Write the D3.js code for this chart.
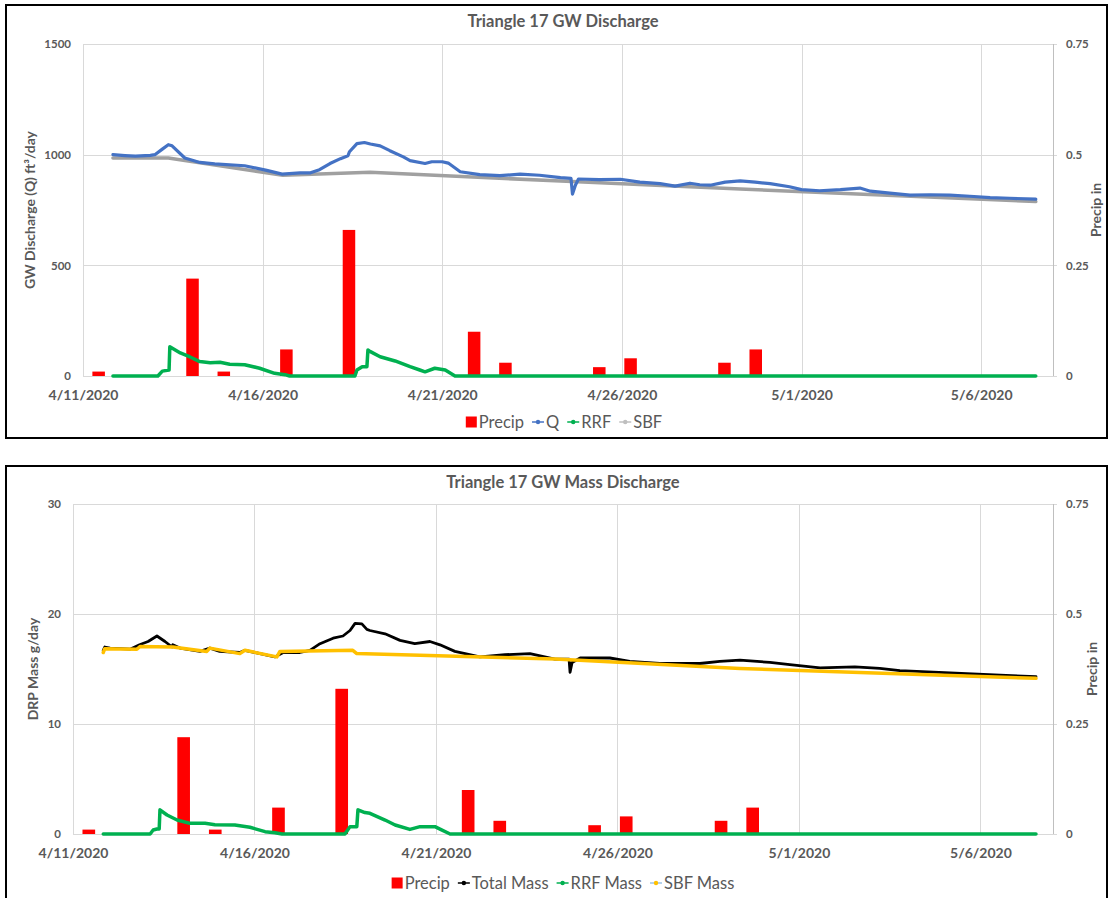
<!DOCTYPE html>
<html><head><meta charset="utf-8">
<script src="https://cdn.jsdelivr.net/npm/d3@7"></script>
<style>
body{margin:0;background:#fff}
svg{display:block}
text{font-family:Lato,"Open Sans",sans-serif;fill:#595959}
</style>
</head><body>
<svg id="c" width="1110" height="898"></svg>
<script>
// Daily precipitation (in), one value per day 4/11/2020 .. 5/11/2020
const precipDays = d3.range(31).map(i => d3.timeFormat("%-m/%-d/%Y")(d3.timeDay.offset(new Date(2020,3,11), i)));
const precipIn = [0.01,0,0,0.22,0.01,0,0.06,0,0.33,0,0,0,0.10,0.03,0,0,0.02,0.04,0,0,0.03,0.06,0,0,0,0,0,0,0,0,0];

// Groundwater discharge (ft3/day)
const qFlow = [["4/11 20:00",1000],["4/12 04:00",996],["4/12 11:00",993],["4/12 21:00",997],["4/13 00:00",1000],["4/13 05:00",1025],["4/13 09:00",1045],["4/13 11:30",1040],["4/13 20:00",985],["4/14 06:00",965],["4/14 16:00",958],["4/15 12:00",950],["4/16 02:00",930],["4/16 13:00",912],["4/17 01:00",918],["4/17 08:00",918],["4/17 14:00",932],["4/17 21:00",960],["4/18 04:00",982],["4/18 09:00",995],["4/18 10:00",1013],["4/18 15:00",1050],["4/18 20:00",1055],["4/19 00:00",1048],["4/19 06:30",1040],["4/19 13:00",1018],["4/19 22:00",990],["4/20 02:30",973],["4/20 12:30",960],["4/20 17:00",968],["4/21 00:00",968],["4/21 04:00",962],["4/21 12:00",923],["4/22 01:00",910],["4/22 14:30",905],["4/23 04:00",912],["4/23 17:00",907],["4/24 07:00",896],["4/24 14:00",893],["4/24 15:00",822],["4/24 17:00",863],["4/24 19:00",890],["4/25 09:00",887],["4/25 23:00",889],["4/26 12:00",876],["4/27 01:30",869],["4/27 11:30",858],["4/27 21:30",871],["4/28 04:00",864],["4/28 11:00",862],["4/28 21:00",876],["4/29 07:00",882],["4/29 17:00",876],["4/30 03:00",869],["4/30 16:00",855],["5/01 00:00",842],["5/01 12:00",837],["5/02 02:00",842],["5/02 15:00",849],["5/02 22:00",835],["5/03 11:00",826],["5/04 00:30",817],["5/04 14:00",819],["5/05 03:00",817],["5/05 16:30",812],["5/06 06:00",806],["5/06 19:00",803],["5/07 12:30",799]];
const rrfFlow = [["4/11 20:00",0],["4/13 02:00",0],["4/13 05:00",22],["4/13 09:30",27],["4/13 10:00",132],["4/13 17:00",104],["4/13 23:30",86],["4/14 06:00",65],["4/14 13:00",60],["4/14 19:30",62],["4/15 02:00",53],["4/15 12:00",51],["4/15 22:00",35],["4/16 08:00",12],["4/16 15:00",6],["4/16 18:00",0],["4/18 13:40",0],["4/18 15:00",27],["4/18 18:30",42],["4/18 21:40",42],["4/18 22:20",117],["4/19 00:00",110],["4/19 06:30",87],["4/19 16:30",68],["4/20 02:30",42],["4/20 09:00",27],["4/20 12:30",19],["4/20 19:00",35],["4/21 02:00",27],["4/21 08:30",0],["5/07 12:30",0]];
const sbfFlow = [["4/11 20:00",985],["4/13 09:00",985],["4/16 13:30",907],["4/18 23:50",920],["4/24 07:00",881],["4/29 07:00",845],["5/07 12:30",788]];

// DRP mass discharge (g/day)
const totalMass = [["4/11 20:00",16.7],["4/11 21:00",17.0],["4/12 00:30",16.9],["4/12 13:40",16.8],["4/12 20:00",17.2],["4/13 01:40",17.5],["4/13 07:30",18.0],["4/13 12:50",17.5],["4/13 17:30",17.0],["4/13 18:00",17.2],["4/13 22:45",16.9],["4/14 12:00",16.6],["4/14 18:30",16.9],["4/15 01:00",16.6],["4/15 14:20",16.5],["4/15 17:40",16.7],["4/16 03:40",16.4],["4/16 13:30",16.1],["4/16 19:00",16.5],["4/17 06:00",16.5],["4/17 12:40",16.7],["4/17 19:20",17.3],["4/18 04:00",17.8],["4/18 10:30",18.0],["4/18 15:10",18.5],["4/18 18:30",19.15],["4/18 23:00",19.1],["4/19 02:20",18.6],["4/19 04:20",18.5],["4/19 14:20",18.2],["4/20 00:15",17.6],["4/20 10:00",17.3],["4/20 20:00",17.5],["4/21 02:40",17.2],["4/21 12:30",16.6],["4/22 05:00",16.1],["4/22 21:40",16.3],["4/23 14:10",16.4],["4/24 06:40",15.9],["4/24 16:00",15.9],["4/24 16:40",14.7],["4/24 18:00",15.6],["4/24 23:20",16.0],["4/25 19:00",16.0],["4/26 08:10",15.7],["4/27 04:00",15.5],["4/27 17:20",15.5],["4/28 06:30",15.5],["4/28 19:40",15.7],["4/29 09:00",15.8],["4/30 04:50",15.6],["4/30 18:00",15.4],["5/01 14:00",15.1],["5/02 13:00",15.2],["5/03 05:30",15.05],["5/03 18:45",14.85],["5/05 04:00",14.65],["5/06 13:00",14.45],["5/07 12:45",14.3]];
const rrfMass = [["4/11 20:00",0],["4/13 03:00",0],["4/13 05:00",0.36],["4/13 07:30",0.45],["4/13 09:00",0.45],["4/13 09:30",2.2],["4/13 14:10",1.73],["4/13 20:50",1.27],["4/14 05:20",0.97],["4/14 15:20",0.97],["4/14 21:50",0.85],["4/15 11:00",0.82],["4/15 21:00",0.61],["4/16 07:00",0.21],["4/16 13:30",0.12],["4/16 18:15",0],["4/18 11:50",0],["4/18 15:10",0.67],["4/18 19:40",0.67],["4/18 20:25",2.2],["4/19 01:00",1.95],["4/19 04:20",1.88],["4/19 14:20",1.27],["4/19 21:00",0.82],["4/20 06:45",0.42],["4/20 13:30",0.67],["4/20 23:20",0.67],["4/21 02:40",0.45],["4/21 09:20",0],["5/07 12:45",0]];
const sbfMass = [["4/11 20:00",16.5],["4/11 21:00",16.85],["4/12 18:15",16.8],["4/12 20:20",17.05],["4/13 18:00",17.0],["4/14 16:30",16.6],["4/14 18:30",16.9],["4/15 14:20",16.4],["4/15 17:40",16.7],["4/16 14:50",16.1],["4/16 16:50",16.6],["4/18 17:00",16.7],["4/18 19:40",16.4],["4/24 06:40",15.9],["4/29 09:00",15.05],["5/07 12:45",14.15]];

// Axis ticks
const dateTicks = ["4/11 00:00","4/16 00:00","4/21 00:00","4/26 00:00","5/01 00:00","5/06 00:00"];
const precipTicks = [0,0.25,0.5,0.75];
const flowTicks = [0,500,1000,1500];
const massTicks = [0,10,20,30];

const parseT = d3.timeParse("%m/%d/%Y %H:%M");
const toDate = s => parseT(s.replace(" ", "/2020 "));
const asPoints = arr => arr.map(([t, v]) => ({t: toDate(t), v}));

const svg = d3.select("#c");
const GRID = "#d9d9d9";

function drawPanel(o) {
  const g = svg.append("g");
  g.append("rect").attr("x", o.frame[0]).attr("y", o.frame[1])
    .attr("width", o.frame[2]).attr("height", o.frame[3])
    .attr("fill", "#fff").attr("stroke", "#000").attr("stroke-width", 2);

  const x = d3.scaleTime().domain([new Date(2020,3,11), new Date(2020,4,8)]).range([o.left, o.right]);
  const xb = d3.scaleBand().domain(precipDays).range([o.left, o.right]).paddingInner(0.6).paddingOuter(0.3);
  const y = d3.scaleLinear().domain([0, o.yTicks[o.yTicks.length-1]]).range([o.bottom, o.top]);
  const yp = d3.scaleLinear().domain([0, 0.75]).range([o.bottom, o.top]);

  // gridlines
  g.append("g").selectAll("line").data(o.yTicks).join("line")
    .attr("x1", o.left).attr("x2", o.right + 4)
    .attr("y1", d => Math.round(y(d)) + 0.5).attr("y2", d => Math.round(y(d)) + 0.5)
    .attr("stroke", GRID).attr("stroke-width", 1);
  g.append("g").selectAll("line").data(dateTicks.map(toDate)).join("line")
    .attr("x1", d => Math.round(x(d)) + 0.5).attr("x2", d => Math.round(x(d)) + 0.5)
    .attr("y1", o.top).attr("y2", o.bottom)
    .attr("stroke", GRID).attr("stroke-width", 1);
  g.append("line").attr("x1", o.right + 0.5).attr("x2", o.right + 0.5)
    .attr("y1", o.top).attr("y2", o.bottom).attr("stroke", "#bfbfbf");

  // left axis labels
  const yAxis = d3.axisLeft(y).tickValues(o.yTicks).tickSize(0).tickPadding(12).tickFormat(d3.format("d"));
  g.append("g").attr("transform", `translate(${o.left},0)`).call(yAxis)
    .call(s => s.select(".domain").remove())
    .selectAll("text").style("font-size", "11.5px").style("font-weight", 700).attr("fill", "#595959");

  // right axis labels
  const ypAxis = d3.axisRight(yp).tickValues(precipTicks).tickSize(0).tickPadding(13)
    .tickFormat(d => d === 0 ? "0" : String(d));
  g.append("g").attr("transform", `translate(${o.right},0)`).call(ypAxis)
    .call(s => s.select(".domain").remove())
    .selectAll("text").style("font-size", "11.5px").style("font-weight", 700).attr("fill", "#595959");

  // date labels
  const xAxis = d3.axisBottom(x).tickValues(dateTicks.map(toDate)).tickFormat(d3.timeFormat("%-m/%-d/%Y")).tickSize(0).tickPadding(14);
  g.append("g").attr("transform", `translate(0,${o.bottom})`).call(xAxis)
    .call(s => s.select(".domain").remove())
    .selectAll("text").style("font-size", "14px").style("font-weight", 700).attr("fill", "#595959");

  // precipitation columns
  g.append("g").selectAll("rect").data(precipDays.map((d, i) => ({d, v: precipIn[i]})).filter(d => d.v > 0)).join("rect")
    .attr("x", d => xb(d.d)).attr("width", xb.bandwidth())
    .attr("y", d => yp(d.v)).attr("height", d => yp(0) - yp(d.v))
    .attr("fill", "#ff0000");

  // series lines
  const line = d3.line().x(d => x(d.t)).y(d => y(d.v));
  o.series.forEach(s => {
    g.append("path").datum(asPoints(s.data)).attr("d", line)
      .attr("fill", "none").attr("stroke", s.color).attr("stroke-width", s.width)
      .attr("stroke-linejoin", "round").attr("stroke-linecap", "round");
  });

  // titles
  g.append("text").attr("x", o.titleX).attr("y", o.titleY).attr("text-anchor", "middle")
    .style("font-size", "16.5px").style("font-weight", 700).text(o.title);
  g.append("text").attr("transform", `translate(${o.yTitleX},${(o.top + o.bottom) / 2}) rotate(-90)`)
    .attr("text-anchor", "middle").attr("dy", "0.35em")
    .style("font-size", "14px").style("font-weight", 700).text(o.yTitle);
  g.append("text").attr("transform", `translate(${o.y2TitleX},${(o.top + o.bottom) / 2}) rotate(-90)`)
    .attr("text-anchor", "middle").attr("dy", "0.35em")
    .style("font-size", "14px").style("font-weight", 700).text("Precip in");

  // legend
  const lg = g.append("g");
  let cx = 0;
  const gap = 8;
  o.legend.forEach(it => {
    const item = lg.append("g").attr("transform", `translate(${cx},0)`);
    let w;
    if (it.kind === "bar") {
      item.append("rect").attr("x", 0).attr("y", -5.5).attr("width", 11).attr("height", 11).attr("fill", it.color);
      w = 13;
    } else {
      item.append("line").attr("x1", 0).attr("x2", 12).attr("y1", 0).attr("y2", 0)
        .attr("stroke", it.line || it.color).attr("stroke-width", 1.5);
      item.append("circle").attr("cx", 6).attr("cy", 0).attr("r", 2.2).attr("fill", it.color);
      w = 14;
    }
    const t = item.append("text").attr("x", w).attr("dy", "0.36em").style("font-size", "16.5px").text(it.label);
    cx += w + t.node().getComputedTextLength() + gap;
  });
  cx -= gap;
  lg.attr("transform", `translate(${o.legendCX - cx / 2},${o.legendY})`);
}

drawPanel({
  frame: [6, 5, 1101, 433],
  left: 83, right: 1053, top: 44, bottom: 376,
  yTicks: flowTicks,
  title: "Triangle 17 GW Discharge", titleX: 563, titleY: 27,
  yTitle: "GW Discharge (Q)  ft³/day", yTitleX: 30, y2TitleX: 1096,
  series: [
    {data: sbfFlow, color: "#a0a0a0", width: 3.5},
    {data: qFlow, color: "#4472c4", width: 3.2},
    {data: rrfFlow, color: "#00b050", width: 3.5}
  ],
  legend: [
    {kind: "bar", label: "Precip", color: "#ff0000"},
    {kind: "line", label: "Q", color: "#4472c4"},
    {kind: "line", label: "RRF", color: "#00b050"},
    {kind: "line", label: "SBF", color: "#bfbfbf"}
  ],
  legendCX: 564, legendY: 422
});

drawPanel({
  frame: [6, 466, 1101, 445],
  left: 73, right: 1053, top: 504, bottom: 834,
  yTicks: massTicks,
  title: "Triangle 17 GW Mass Discharge", titleX: 563, titleY: 488,
  yTitle: "DRP Mass g/day", yTitleX: 33, y2TitleX: 1092,
  series: [
    {data: totalMass, color: "#000000", width: 2.8},
    {data: sbfMass, color: "#ffc000", width: 3.5},
    {data: rrfMass, color: "#00b050", width: 3.5}
  ],
  legend: [
    {kind: "bar", label: "Precip", color: "#ff0000"},
    {kind: "line", label: "Total Mass", color: "#000000"},
    {kind: "line", label: "RRF Mass", color: "#00b050"},
    {kind: "line", label: "SBF Mass", color: "#ffc000", line: "#9dc3e6"}
  ],
  legendCX: 563, legendY: 883
});
</script>
</body></html>
